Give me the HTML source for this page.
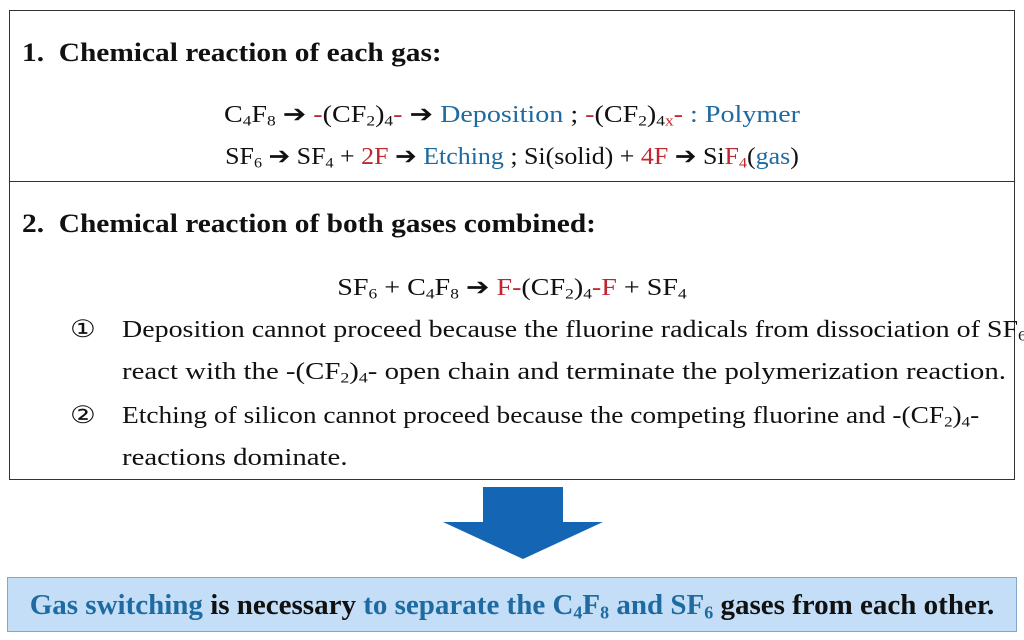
<!DOCTYPE html>
<html><head><meta charset="utf-8"><style>
body{margin:0;width:1024px;height:640px;background:#fff;position:relative;overflow:hidden;font-family:"Liberation Serif",serif;color:#111}
.box{position:absolute;left:9px;top:10px;width:1006px;height:470px;border:1px solid #333;box-sizing:border-box}
.div{position:absolute;left:9px;top:181px;width:1006px;height:1px;background:#333}
.l{position:absolute;white-space:nowrap;font-size:24px;line-height:1;transform-origin:0 50%;transform:scaleX(1.2)}
.t{font-size:26px;font-weight:bold;transform:scaleX(1.13)}
.c{left:0;width:1024px;text-align:center;transform-origin:50% 50%;transform:scaleX(1.17)}
.b{color:#1f6aa0}.r{color:#c0262d}
sub{font-size:62%;vertical-align:-0.25em;line-height:0}
</style></head><body>
<div class="box"></div><div class="div"></div>
<div class="l t" style="left:22px;top:40px">1.&nbsp;&nbsp;Chemical reaction of each gas:</div>
<div class="l c" style="top:103px">C<sub>4</sub>F<sub>8</sub> ➔ <span class="r">-</span>(CF<sub>2</sub>)<sub>4</sub><span class="r">-</span> ➔ <span class="b">Deposition</span> ; <span class="r">-</span>(CF<sub>2</sub>)<sub>4<span class="r">x</span></sub><span class="r">-</span> <span class="b">: Polymer</span></div>
<div class="l c" style="top:145px;transform:scaleX(1.08)">SF<sub>6</sub> ➔ SF<sub>4</sub> + <span class="r">2F</span> ➔ <span class="b">Etching</span> ; Si(solid) + <span class="r">4F</span> ➔ Si<span class="r">F<sub>4</sub></span>(<span class="b">gas</span>)</div>
<div class="l t" style="left:22px;top:211px">2.&nbsp;&nbsp;Chemical reaction of both gases combined:</div>
<div class="l c" style="top:276px">SF<sub>6</sub> + C<sub>4</sub>F<sub>8</sub> ➔ <span class="r">F-</span>(CF<sub>2</sub>)<sub>4</sub><span class="r">-F</span> + SF<sub>4</sub></div>
<div class="l" style="left:70px;top:318px">①</div>
<div class="l" style="left:122px;top:318px;transform:scaleX(1.165)">Deposition cannot proceed because the fluorine radicals from dissociation of SF<sub>6</sub></div>
<div class="l" style="left:122px;top:360px">react with the -(CF<sub>2</sub>)<sub>4</sub>- open chain and terminate the polymerization reaction.</div>
<div class="l" style="left:70px;top:404px">②</div>
<div class="l" style="left:122px;top:404px;transform:scaleX(1.14)">Etching of silicon cannot proceed because the competing fluorine and -(CF<sub>2</sub>)<sub>4</sub>-</div>
<div class="l" style="left:122px;top:446px">reactions dominate.</div>
<svg style="position:absolute;left:0;top:0" width="1024" height="640"><polygon points="483,487 563,487 563,522 603,522 523,559 443,522 483,522" fill="#1565b5"/></svg>
<div style="position:absolute;left:7px;top:577px;width:1010px;height:55px;background:#c3def6;border:1px solid #7fa8cc;box-sizing:border-box"></div>
<div class="l c" style="top:591px;font-size:29px;font-weight:bold;transform:none"><span class="b">Gas switching</span> is necessary <span class="b">to separate the C<sub>4</sub>F<sub>8</sub> and SF<sub>6</sub></span> gases from each other.</div>
</body></html>
